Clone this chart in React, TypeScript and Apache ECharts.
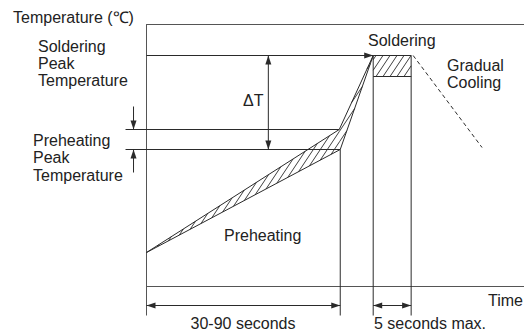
import React, { useEffect, useRef } from "react";
import * as echarts from "echarts";

// ---- Data (schematic units: time along x, temperature along y) ----
const timeRange = [0, 378];
const tempRange = [0, 262];
const preheatStart = [0, 34];
const preheatUpperEnd = [193, 157];
const preheatLowerEnd = [194, 137];
const solderPeak = [227, 231];
const solderHoldBottom = 210;
const solderEnd = 265;
const coolingLine = [[267, 231], [336, 139]];
const preheatLevels = [157, 137];
const peakLevel = 231;
const timeMarks = [194, 227, 265];
const deltaTTime = 122;
const preheatArrowTime = -13;
const levelLineStart = -21;
const dimensionLevel = -19;
const markBottom = -29;

const labelTempAxis = "Temperature (℃)";
const labelTimeAxis = "Time";
const labelSolderPeak = ["Soldering", "Peak", "Temperature"];
const labelPreheatPeak = ["Preheating", "Peak", "Temperature"];
const labelDeltaT = "ΔT";
const labelSoldering = "Soldering";
const labelCooling = ["Gradual", "Cooling"];
const labelPreheating = "Preheating";
const labelPreheatTime = "30-90 seconds";
const labelSolderTime = "5 seconds max.";

const STROKE = "#2a2a2a";
const FONT = "16px 'Liberation Sans', Arial, sans-serif";

function renderItem(params: any, api: any) {
  const c = (x: number, y: number) => api.coord([x, y]) as number[];
  const children: any[] = [];
  const line = (p1: number[], p2: number[], extra: any = {}) =>
    children.push({
      type: "line",
      shape: { x1: p1[0], y1: p1[1], x2: p2[0], y2: p2[1] },
      style: { stroke: STROKE, lineWidth: 1, ...extra },
    });
  const arrow = (tip: number[], from: number[]) => {
    const dx = tip[0] - from[0];
    const dy = tip[1] - from[1];
    const len = Math.hypot(dx, dy) || 1;
    const ux = dx / len, uy = dy / len;
    const L = 9, W = 3;
    children.push({
      type: "polygon",
      shape: {
        points: [
          tip,
          [tip[0] - ux * L - uy * W, tip[1] - uy * L + ux * W],
          [tip[0] - ux * L + uy * W, tip[1] - uy * L - ux * W],
        ],
      },
      style: { fill: STROKE, stroke: "none" },
    });
  };
  const hatch = (poly: number[][], spacing: number, slope: number) => {
    const u = (p: number[]) => p[0] + p[1] / slope;
    const us = poly.map(u);
    const umin = Math.min(...us), umax = Math.max(...us);
    for (let cc = Math.ceil(umin / spacing) * spacing; cc <= umax; cc += spacing) {
      const pts: number[][] = [];
      for (let i = 0; i < poly.length; i++) {
        const a = poly[i], b = poly[(i + 1) % poly.length];
        const ua = u(a), ub = u(b);
        if (ua === ub) continue;
        const w = (cc - ua) / (ub - ua);
        if (w >= 0 && w <= 1) pts.push([a[0] + w * (b[0] - a[0]), a[1] + w * (b[1] - a[1])]);
      }
      if (pts.length >= 2) {
        pts.sort((p, q) => p[0] - q[0]);
        line(pts[0], pts[pts.length - 1], { lineWidth: 0.9 });
      }
    }
  };

  const A = c(preheatStart[0], preheatStart[1]);
  const B = c(preheatUpperEnd[0], preheatUpperEnd[1]);
  const D = c(preheatLowerEnd[0], preheatLowerEnd[1]);
  const C = c(solderPeak[0], solderPeak[1]);

  // top frame line and y-axis extension
  line(c(0, tempRange[1]), c(timeRange[1], tempRange[1]), { stroke: "#555" });
  line(c(0, 0), c(0, markBottom), { stroke: "#555" });

  // preheat / peak level lines
  line(c(levelLineStart, preheatLevels[0]), B);
  line(c(levelLineStart, preheatLevels[1]), D);
  line(c(0, peakLevel), C);
  arrow(C, c(0, peakLevel));

  // hatched tolerance band
  hatch([A, B, D], 7, 1.5);
  hatch([B, C, D], 7, 1.5);
  line(A, B); line(B, C); line(A, D); line(D, C);

  // solder hold rectangle
  const r1 = c(solderPeak[0], peakLevel);
  const r2 = c(solderEnd, solderHoldBottom);
  hatch([r1, [r2[0], r1[1]], r2, [r1[0], r2[1]]], 7, 1.5);
  line(r1, [r2[0], r1[1]]);
  line([r1[0], r2[1]], r2);
  line(r1, [r1[0], r2[1]]);

  // vertical time marks
  line(D, c(timeMarks[0], markBottom));
  line(c(timeMarks[1], solderHoldBottom), c(timeMarks[1], markBottom));
  line(c(timeMarks[2], peakLevel), c(timeMarks[2], markBottom));

  // cooling dashed line
  line(c(coolingLine[0][0], coolingLine[0][1]), c(coolingLine[1][0], coolingLine[1][1]), {
    lineDash: [4, 3],
  });

  // delta T arrow
  const dt1 = c(deltaTTime, peakLevel), dt2 = c(deltaTTime, preheatLevels[1]);
  line(dt1, dt2); arrow(dt1, dt2); arrow(dt2, dt1);

  // preheat peak small arrows
  const pa1 = c(preheatArrowTime, preheatLevels[0]);
  const pa1s = [pa1[0], pa1[1] - 23];
  line(pa1s, pa1); arrow(pa1, pa1s);
  const pa2 = c(preheatArrowTime, preheatLevels[1]);
  const pa2s = [pa2[0], pa2[1] + 23];
  line(pa2s, pa2); arrow(pa2, pa2s);

  // dimension arrows
  const d1 = c(0, dimensionLevel), d2 = c(timeMarks[0], dimensionLevel);
  line(d1, d2); arrow(d1, d2); arrow(d2, d1);
  const d3 = c(timeMarks[1], dimensionLevel), d4 = c(timeMarks[2], dimensionLevel);
  line(d3, d4); arrow(d3, d4); arrow(d4, d3);

  return { type: "group", children };
}

function txt(text: string, x: number, y: number, align = "left") {
  return {
    type: "text",
    x,
    y,
    style: {
      text,
      font: FONT,
      fill: "#222",
      textAlign: align,
      textVerticalAlign: "middle",
      align,
      verticalAlign: "middle",
    },
  };
}

export default function App() {
  const ref = useRef<HTMLDivElement>(null);
  useEffect(() => {
    const chart = echarts.init(ref.current!, undefined, { renderer: "svg" });
    chart.setOption({
      animation: false,
      grid: { left: 146.5, top: 24.5, right: -0.5, bottom: 44.5 },
      xAxis: {
        type: "value",
        min: timeRange[0],
        max: timeRange[1],
        axisLine: { show: true, lineStyle: { color: "#555", width: 1 } },
        axisTick: { show: false },
        axisLabel: { show: false },
        splitLine: { show: false },
      },
      yAxis: {
        type: "value",
        min: tempRange[0],
        max: tempRange[1],
        axisLine: { show: true, lineStyle: { color: "#555", width: 1 } },
        axisTick: { show: false },
        axisLabel: { show: false },
        splitLine: { show: false },
      },
      series: [
        {
          type: "custom",
          renderItem,
          clip: false,
          data: [[0, 0]],
          silent: true,
        },
      ],
      graphic: [
        txt(labelTempAxis, 13, 17),
        txt(labelSolderPeak[0], 38, 46),
        txt(labelSolderPeak[1], 38, 63),
        txt(labelSolderPeak[2], 38, 80),
        txt(labelPreheatPeak[0], 33, 140),
        txt(labelPreheatPeak[1], 33, 157),
        txt(labelPreheatPeak[2], 33, 175),
        txt(labelDeltaT, 243, 100),
        txt(labelSoldering, 368, 40),
        txt(labelCooling[0], 447, 65),
        txt(labelCooling[1], 447, 82),
        txt(labelPreheating, 224, 235),
        txt(labelTimeAxis, 523, 300, "right"),
        txt(labelPreheatTime, 243, 323, "center"),
        txt(labelSolderTime, 374, 323),
      ],
    });
    return () => chart.dispose();
  }, []);
  return (
    <div
      ref={ref}
      style={{ position: "fixed", left: 0, top: 0, width: 524, height: 331, background: "#fff" }}
    />
  );
}
